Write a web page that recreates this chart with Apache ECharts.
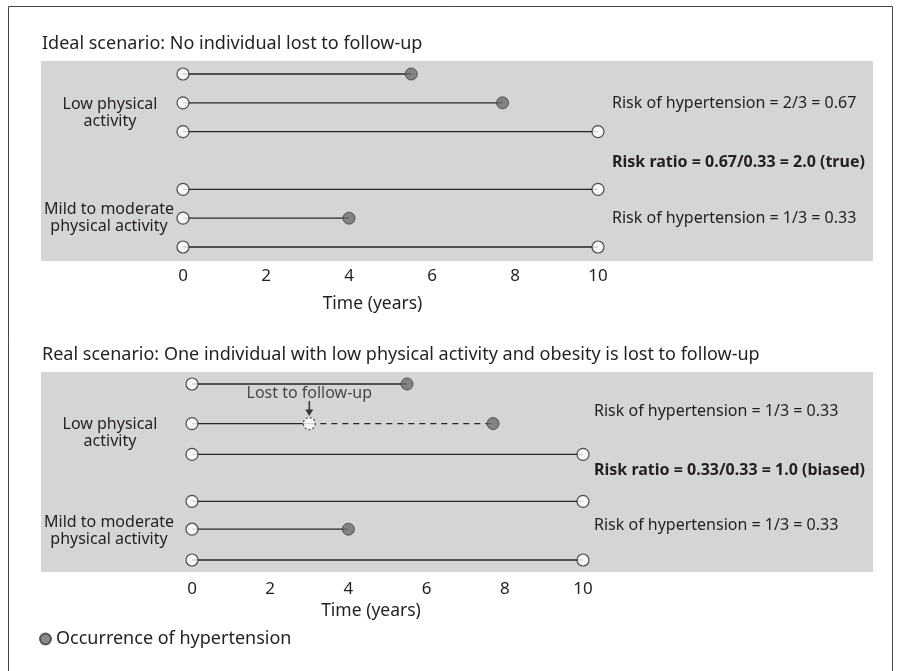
<!DOCTYPE html>
<html><head><meta charset="utf-8">
<script src="https://cdn.jsdelivr.net/npm/echarts@6/dist/echarts.min.js"></script>
<style>html,body{margin:0;padding:0;background:#fff}#c{width:904px;height:671px}</style>
</head><body><div id="c"></div>
<script>
// ---------------- data ----------------
const timeTicks = [0, 2, 4, 6, 8, 10];
const groupLabels = ['Low physical\nactivity', 'Mild to moderate\nphysical activity'];
const panelTitles = [
  'Ideal scenario: No individual lost to follow-up',
  'Real scenario: One individual with low physical activity and obesity is lost to follow-up'
];
// participant: group (0 = low, 1 = mild/moderate), end of follow-up (years), hypertension at end (1/0)
const participantGroup = [0, 0, 0, 1, 1, 1];
const idealEnd   = [5.5, 7.7, 10, 10, 4, 10];
const idealEvent = [1, 1, 0, 0, 1, 0];
const realEnd    = [5.5, 7.7, 10, 10, 4, 10];
const realEvent  = [1, 1, 0, 0, 1, 0];
const realLostAt = [null, 3.0, null, null, null, null];
const ratioNote  = ['(true)', '(biased)'];
const legendName = 'Occurrence of hypertension';

// ---------------- layout / style ----------------
const FONT = '"Noto Sans", "Open Sans", sans-serif';
const TXT = '#231f20';
const LINE = '#262626';
const DOT = '#6d6e70';
const GRAY = '#d4d5d7';
const rowSlots = [[1, 2, 3, 5, 6, 7], [1, 2.35, 3.4, 5, 5.95, 7]];
const grids = [
  {left: 183, width: 415, top: 74, height: 173},
  {left: 192, width: 391, top: 384, height: 176}
];
const panels = [
  {end: idealEnd, event: idealEvent, lost: [null, null, null, null, null, null]},
  {end: realEnd, event: realEvent, lost: realLostAt}
];

function riskOf(p, g) {
  let ev = 0, n = 0;
  participantGroup.forEach((gg, i) => {
    if (gg !== g) return;
    n++;
    if (p.event[i] && p.lost[i] == null) ev++;
  });
  return {ev, n, r: (ev / n).toFixed(2)};
}

const series = [];
panels.forEach((p, pi) => {
  const rows = rowSlots[pi];
  const starts = [], opens = [], events = [], losts = [];
  p.end.forEach((e, i) => {
    const y = rows[i];
    starts.push([0, y]);
    const solidEnd = p.lost[i] != null ? p.lost[i] : e;
    series.push({type: 'line', xAxisIndex: pi, yAxisIndex: pi, data: [[0, y], [solidEnd, y]],
      symbol: 'none', clip: false, silent: true, z: 2,
      lineStyle: {color: LINE, width: 1.3}});
    if (p.lost[i] != null) {
      series.push({type: 'line', xAxisIndex: pi, yAxisIndex: pi, data: [[p.lost[i], y], [e, y]],
        symbol: 'none', clip: false, silent: true, z: 2,
        lineStyle: {color: LINE, width: 1.3, type: [6, 5]}});
      losts.push([p.lost[i], y]);
    }
    if (p.event[i]) events.push([e, y]); else opens.push([e, y]);
  });
  const openStyle = {color: '#fff', borderColor: LINE, borderWidth: 1.2};
  series.push({type: 'scatter', xAxisIndex: pi, yAxisIndex: pi, data: starts.concat(opens),
    symbolSize: 12, clip: false, z: 5, itemStyle: openStyle});
  series.push({type: 'scatter', name: legendName, xAxisIndex: pi, yAxisIndex: pi, data: events,
    symbolSize: 12, clip: false, z: 5, itemStyle: {color: DOT, borderColor: '#3c3c3c', borderWidth: 1}});
  if (losts.length) {
    series.push({type: 'scatter', xAxisIndex: pi, yAxisIndex: pi, data: losts,
      symbolSize: 12, clip: false, z: 5,
      itemStyle: {color: '#fff', borderColor: LINE, borderWidth: 1.2, borderType: [2, 2]}});
    series.push({type: 'scatter', xAxisIndex: pi, yAxisIndex: pi, data: losts,
      symbol: 'path://M4,0 L6,0 L6,9 L10,9 L5,16 L0,9 L4,9 Z', symbolSize: [8, 15],
      symbolOffset: [0, -15], clip: false, z: 6,
      itemStyle: {color: '#111'},
      label: {show: true, position: 'top', distance: 0, formatter: 'Lost to follow-up',
        fontFamily: FONT, fontSize: 16, color: TXT}});
  }
});

const graphic = [
  {type: 'rect', shape: {x: 8.5, y: 6.5, width: 884, height: 700}, style: {fill: 'none', stroke: '#444', lineWidth: 1}, z: -10},
  {type: 'rect', shape: {x: 41, y: 61, width: 832, height: 200}, style: {fill: GRAY}, z: -5},
  {type: 'rect', shape: {x: 41, y: 372, width: 832, height: 200}, style: {fill: GRAY}, z: -5}
];
const titleY = [44, 355];
const groupPos = [[[110, 113], [109, 218]], [[110, 433], [109, 531]]];
const riskX = [612, 594];
const riskY = [[103, 162, 218], [411, 470, 525]];
panels.forEach((p, pi) => {
  graphic.push({type: 'text', x: 42, y: titleY[pi], style: {text: panelTitles[pi], fontFamily: FONT, fontSize: 18,
    fill: TXT, textAlign: 'left', textVerticalAlign: 'middle'}});
  groupLabels.forEach((t, g) => {
    graphic.push({type: 'text', x: groupPos[pi][g][0], y: groupPos[pi][g][1], style: {text: t, fontFamily: FONT,
      fontSize: 16, lineHeight: 17, fill: TXT, textAlign: 'center', textVerticalAlign: 'middle'}});
  });
  const a = riskOf(p, 0), b = riskOf(p, 1);
  const ratio = (Number(a.r) / Number(b.r)).toFixed(1);
  const texts = [
    ['Risk of hypertension = ' + a.ev + '/' + a.n + ' = ' + a.r, 'normal'],
    ['Risk ratio = ' + a.r + '/' + b.r + ' = ' + ratio + ' ' + ratioNote[pi], 'bold'],
    ['Risk of hypertension = ' + b.ev + '/' + b.n + ' = ' + b.r, 'normal']
  ];
  texts.forEach((t, k) => {
    graphic.push({type: 'text', x: riskX[pi], y: riskY[pi][k], style: {text: t[0], fontFamily: FONT,
      fontSize: 16, fontWeight: t[1], fill: TXT, textAlign: 'left', textVerticalAlign: 'middle'}});
  });
});

const xAxes = grids.map((g, i) => ({
  type: 'value', gridIndex: i, min: 0, max: 10, interval: 2,
  axisLine: {show: false}, axisTick: {show: false}, splitLine: {show: false},
  axisLabel: {fontFamily: FONT, fontSize: 17, color: TXT, margin: 21,
    formatter: v => (timeTicks.indexOf(v) >= 0 ? String(v) : '')},
  name: 'Time (years)', nameLocation: 'middle', nameGap: i === 0 ? 48 : 42,
  nameTextStyle: {fontFamily: FONT, fontSize: 17.5, color: TXT, padding: [0, i === 0 ? 36 : 33, 0, 0]}
}));
const yAxes = grids.map((g, i) => ({type: 'value', gridIndex: i, min: 1, max: 7, inverse: true, show: false}));

const chart = echarts.init(document.getElementById('c'), null, {renderer: 'canvas'});
chart.setOption({
  animation: false,
  backgroundColor: '#fff',
  grid: grids,
  xAxis: xAxes,
  yAxis: yAxes,
  legend: {data: [legendName], left: 34, top: 625, icon: 'circle', itemWidth: 11, itemHeight: 11, itemGap: 7,
    selectedMode: false,
    textStyle: {fontFamily: FONT, fontSize: 18, color: TXT}},
  graphic: graphic,
  series: series
});
</script></body></html>
